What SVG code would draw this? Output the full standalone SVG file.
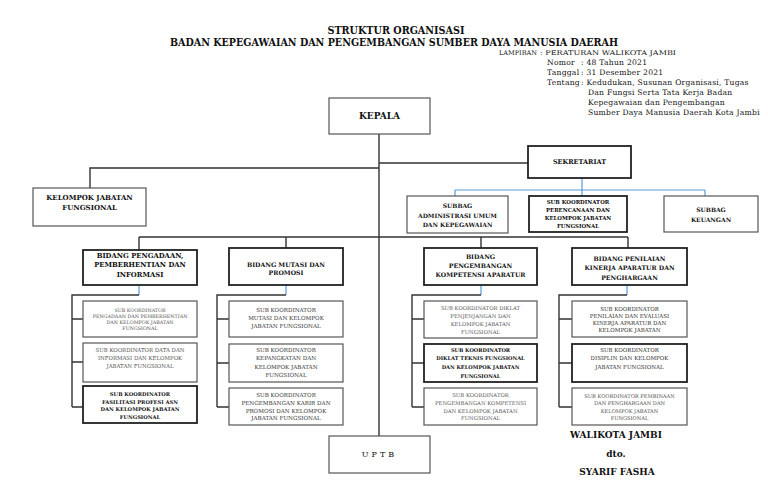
<svg xmlns="http://www.w3.org/2000/svg" width="768" height="503" viewBox="0 0 768 503">
<style>
text{font-family:"DejaVu Serif","Liberation Serif",serif;fill:#111;text-anchor:middle;dominant-baseline:central}
.t{font-weight:bold;font-size:11px}
.l{font-size:7.6px;letter-spacing:0.25px;text-anchor:start;dominant-baseline:auto}
.lc{font-size:6.5px;text-anchor:start;dominant-baseline:auto}
.h{font-weight:bold}
.g{fill:#555}
.m{fill:#333}
.box{fill:#fff;stroke:#555;stroke-width:1.2}
.bb{fill:#fff;stroke:#222;stroke-width:1.8}
.ln{fill:none;stroke:#333;stroke-width:1.4}
.bl{fill:none;stroke:#5b9bd5;stroke-width:1.2}
</style>
<rect width="768" height="503" fill="#fff"/>
<g id="title">
<text class="t" x="396" y="30" textLength="137" lengthAdjust="spacingAndGlyphs">STRUKTUR ORGANISASI</text>
<text class="t" x="394" y="42" textLength="448" lengthAdjust="spacingAndGlyphs">BADAN KEPEGAWAIAN DAN PENGEMBANGAN SUMBER DAYA MANUSIA DAERAH</text>
</g>
<g id="lampiran">
<text class="lc" y="55"><tspan x="499" textLength="38" lengthAdjust="spacingAndGlyphs">LAMPIRAN</tspan><tspan x="540" textLength="136" lengthAdjust="spacingAndGlyphs">: PERATURAN WALIKOTA JAMBI</tspan></text>
<text class="l" y="65"><tspan x="547">Nomor</tspan><tspan x="581">: 48 Tahun 2021</tspan></text>
<text class="l" y="75"><tspan x="547">Tanggal</tspan><tspan x="581">: 31 Desember 2021</tspan></text>
<text class="l" y="85"><tspan x="547">Tentang</tspan><tspan x="581">: Kedudukan, Susunan Organisasi, Tugas</tspan></text>
<text class="l" x="588" y="95">Dan Fungsi Serta  Tata Kerja Badan</text>
<text class="l" x="588" y="105">Kepegawaian dan Pengembangan</text>
<text class="l" x="588" y="115">Sumber Daya Manusia Daerah Kota Jambi</text>
</g>
<g id="connectors">
<path class="ln" d="M379 134V436M379 168H90V188M379 163H528"/>
<path class="bl" d="M582 178V190M455 190H705M455 190V196M582 190V196M705 190V196"/>
<path class="ln" d="M139 237H628M139 237V250M286 237V248M481 237V248M628 237V248"/>
<path class="bl" d="M139 285V295M286 285V295M481 285V295M627 285V295"/>
<path class="ln" d="M139 295H72V407M72 319H83M72 362H83M72 407H83"/>
<path class="ln" d="M286 295H217V407M217 319H229M217 363H229M217 407H229"/>
<path class="ln" d="M481 295H412V407M412 319H424M412 363H424M412 407H424"/>
<path class="ln" d="M627 295H559V407M559 319H572M559 363H572M559 407H572"/>
</g>
<g id="kepala"><rect class="box" x="329" y="98" width="101" height="36"/><text class="h" x="379.5" y="116" font-size="9">KEPALA</text></g>
<g id="kelompok"><rect class="box" x="33" y="188" width="113" height="38"/><text class="h" x="89.5" y="197" font-size="7">KELOMPOK JABATAN</text><text class="h" x="89.5" y="207.5" font-size="7">FUNGSIONAL</text></g>
<g id="sekretariat"><rect class="bb" x="528" y="146" width="103" height="32"/><text class="h" x="579.5" y="162" font-size="6.5">SEKRETARIAT</text></g>
<g id="subbag-adm"><rect class="box" x="407" y="196" width="101" height="37"/><text class="h" x="457.5" y="205" font-size="6">SUBBAG</text><text class="h" x="457.5" y="215" font-size="6">ADMINISTRASI UMUM</text><text class="h" x="457.5" y="224" font-size="6">DAN KEPEGAWAIAN</text></g>
<g id="perencanaan"><rect class="bb" x="529" y="196" width="98" height="36"/><text class="h" x="578" y="202" font-size="5.4">SUB KOORDINATOR</text><text class="h" x="578" y="210" font-size="5.4">PERENCANAAN DAN</text><text class="h" x="578" y="218" font-size="5.4">KELOMPOK JABATAN</text><text class="h" x="578" y="226" font-size="5.4">FUNGSIONAL</text></g>
<g id="keuangan"><rect class="box" x="664" y="196" width="94" height="36"/><text class="h" x="711" y="209" font-size="6">SUBBAG</text><text class="h" x="711" y="219" font-size="6">KEUANGAN</text></g>
<g id="bidang1"><rect class="bb" x="83" y="250" width="114" height="35"/><text class="h" x="140" y="256" font-size="6.8">BIDANG PENGADAAN,</text><text class="h" x="140" y="265" font-size="6.8">PEMBERHENTIAN DAN</text><text class="h" x="140" y="275" font-size="6.8">INFORMASI</text></g>
<g id="b1s1"><rect class="box" x="83" y="301" width="114" height="36"/><text class="g" x="140" y="310" font-size="4.8">SUB KOORDINATOR</text><text class="g" x="140" y="316" font-size="4.8">PENGADAAN DAN PEMBERHENTIAN</text><text class="g" x="140" y="322" font-size="4.8">DAN KELOMPOK JABATAN</text><text class="g" x="140" y="328" font-size="4.8">FUNGSIONAL</text></g>
<g id="b1s2"><rect class="box" x="83" y="343" width="114" height="39"/><text class="g" x="140" y="350" font-size="5.4">SUB KOORDINATOR DATA DAN</text><text class="g" x="140" y="358" font-size="5.4">INFORMASI DAN KELOMPOK</text><text class="g" x="140" y="366" font-size="5.4">JABATAN FUNGSIONAL</text></g>
<g id="b1s3"><rect class="bb" x="83" y="386" width="114" height="37"/><text class="h" x="140" y="394" font-size="5.2">SUB KOORDINATOR</text><text class="h" x="140" y="401.5" font-size="5.2">FASILITASI PROFESI ASN</text><text class="h" x="140" y="409" font-size="5.2">DAN KELOMPOK JABATAN</text><text class="h" x="140" y="417" font-size="5.2">FUNGSIONAL</text></g>
<g id="bidang2"><rect class="bb" x="229" y="248" width="114" height="37"/><text class="h" x="286" y="264" font-size="6.2">BIDANG MUTASI DAN</text><text class="h" x="286" y="272" font-size="6.2">PROMOSI</text></g>
<g id="b2s1"><rect class="box" x="229" y="301" width="114" height="36"/><text class="m" x="286" y="310" font-size="5.6">SUB KOORDINATOR</text><text class="m" x="286" y="318" font-size="5.6">MUTASI DAN KELOMPOK</text><text class="m" x="286" y="326" font-size="5.6">JABATAN FUNGSIONAL</text></g>
<g id="b2s2"><rect class="box" x="229" y="344" width="114" height="38"/><text class="m" x="286" y="350" font-size="5.6">SUB KOORDINATOR</text><text class="m" x="286" y="358" font-size="5.6">KEPANGKATAN DAN</text><text class="m" x="286" y="367" font-size="5.6">KELOMPOK JABATAN</text><text class="m" x="286" y="375" font-size="5.6">FUNGSIONAL</text></g>
<g id="b2s3"><rect class="box" x="229" y="388" width="114" height="37"/><text class="m" x="286" y="395" font-size="5.6">SUB KOORDINATOR</text><text class="m" x="286" y="403" font-size="5.6">PENGEMBANGAN KARIR DAN</text><text class="m" x="286" y="411" font-size="5.6">PROMOSI DAN KELOMPOK</text><text class="m" x="286" y="418" font-size="5.6">JABATAN FUNGSIONAL</text></g>
<g id="bidang3"><rect class="bb" x="424" y="248" width="113" height="37"/><text class="h" x="480.5" y="256" font-size="6.2">BIDANG</text><text class="h" x="480.5" y="265.5" font-size="6.2">PENGEMBANGAN</text><text class="h" x="480.5" y="274.5" font-size="6.2">KOMPETENSI APARATUR</text></g>
<g id="b3s1"><rect class="box" x="424" y="301" width="113" height="37"/><text class="g" x="480.5" y="308" font-size="5.3">SUB KOORDINATOR DIKLAT</text><text class="g" x="480.5" y="316" font-size="5.3">PENJENJANGAN DAN</text><text class="g" x="480.5" y="324" font-size="5.3">KELOMPOK JABATAN</text><text class="g" x="480.5" y="332" font-size="5.3">FUNGSIONAL</text></g>
<g id="b3s2"><rect class="bb" x="424" y="344" width="113" height="38"/><text class="h" x="480.5" y="349.5" font-size="5.1">SUB KOORDINATOR</text><text class="h" x="480.5" y="358" font-size="5.1">DIKLAT TEKNIS FUNGSIONAL</text><text class="h" x="480.5" y="367" font-size="5.1">DAN KELOMPOK JABATAN</text><text class="h" x="480.5" y="375.5" font-size="5.1">FUNGSIONAL</text></g>
<g id="b3s3"><rect class="box" x="424" y="388" width="113" height="37"/><text class="g" x="480.5" y="395" font-size="5.3">SUB KOORDINATOR</text><text class="g" x="480.5" y="403" font-size="5.3">PENGEMBANGAN KOMPETENSI</text><text class="g" x="480.5" y="411" font-size="5.3">DAN KELOMPOK JABATAN</text><text class="g" x="480.5" y="418" font-size="5.3">FUNGSIONAL</text></g>
<g id="bidang4"><rect class="bb" x="572" y="248" width="115" height="37"/><text class="h" x="629.5" y="258" font-size="6.2">BIDANG PENILAIAN</text><text class="h" x="629.5" y="267" font-size="6.2">KINERJA APARATUR DAN</text><text class="h" x="629.5" y="277" font-size="6.2">PENGHARGAAN</text></g>
<g id="b4s1"><rect class="box" x="572" y="301" width="115" height="36"/><text class="m" x="629.5" y="309" font-size="5.5">SUB KOORDINATOR</text><text class="m" x="629.5" y="316" font-size="5.5">PENILAIAN DAN EVALUASI</text><text class="m" x="629.5" y="323" font-size="5.5">KINERJA APARATUR DAN</text><text class="m" x="629.5" y="330" font-size="5.5">KELOMPOK JABATAN</text></g>
<g id="b4s2"><rect class="bb" x="572" y="344" width="115" height="38"/><text class="m" x="629.5" y="350" font-size="5.5">SUB KOORDINATOR</text><text class="m" x="629.5" y="358" font-size="5.5">DISIPLIN DAN KELOMPOK</text><text class="m" x="629.5" y="367" font-size="5.5">JABATAN FUNGSIONAL</text></g>
<g id="b4s3"><rect class="box" x="572" y="388" width="115" height="37"/><text class="g" x="629.5" y="396" font-size="5.1">SUB KOORDINATOR PEMBINAAN</text><text class="g" x="629.5" y="403" font-size="5.1">DAN PENGHARGAAN DAN</text><text class="g" x="629.5" y="411" font-size="5.1">KELOMPOK JABATAN</text><text class="g" x="629.5" y="418" font-size="5.1">FUNGSIONAL</text></g>
<g id="uptb"><rect class="box" x="329" y="436" width="101" height="37"/><text x="379.5" y="454.5" font-size="8" letter-spacing="3">UPTB</text></g>
<g id="pengesahan">
<text class="h" x="616" y="435" font-size="9">WALIKOTA JAMBI</text>
<text class="h" x="616" y="454" font-size="9">dto.</text>
<text class="h" x="617" y="472" font-size="9">SYARIF FASHA</text>
</g>
</svg>
